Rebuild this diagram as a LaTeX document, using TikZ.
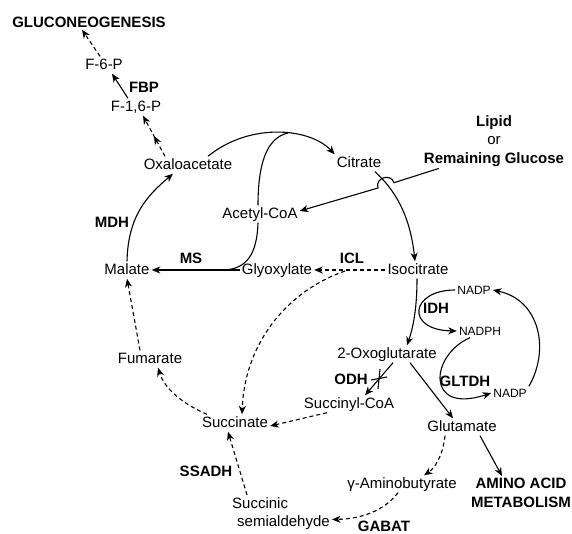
\documentclass[tikz,border=0pt]{standalone}
\usepackage{fontspec}
\setmainfont{Liberation Sans}
\usepackage{tikz}
\usetikzlibrary{arrows.meta,decorations.markings,positioning}

\newcommand{\bodyfont}{\fontsize{15pt}{18.5pt}\selectfont}
\newcommand{\cofont}{\fontsize{12pt}{14pt}\selectfont}

\begin{document}
\begin{tikzpicture}[x=1pt,y=1pt,
  every node/.style={font=\bodyfont, inner sep=2pt},
  mnode/.style={text height=11pt, text depth=2pt},
  enode/.style={font=\bodyfont\bfseries, text height=11pt, text depth=0pt},
  cnode/.style={font=\cofont, text height=9pt, text depth=0pt},
  lnode/.style={align=center, font=\bodyfont},
  joinline/.style={line width=1.1pt},
  conv/.style={joinline, -{Stealth[length=8.5pt,width=7pt,inset=2.5pt]}},
  dconv/.style={conv, dash pattern=on 4pt off 3pt},
  midtip/.style={postaction={decorate}, decoration={markings,
      mark=at position 0.5 with {\arrow{Stealth[length=8.5pt,width=7pt,inset=2.5pt]}}}}]

\useasboundingbox (0,0) rectangle (572,-534);

  \node (gluco) [enode] at (89,-22) {GLUCONEOGENESIS};
  \node (f6p) [mnode] at (104,-65) {F-6-P};
  \node (fbp) [enode] at (144,-87) {FBP};
  \node (f16p) [mnode] at (136,-107) {F-1,6-P};
  \node (oaa) [mnode] at (188,-165) {Oxaloacetate};
  \node (cit) [mnode] at (359,-163) {Citrate};
  \node (src) [lnode, anchor=north] at (494,-113) {\textbf{Lipid}\\or\\\textbf{Remaining Glucose}};
  \node (acoa) [mnode] at (260,-214) {Acetyl-CoA};
  \node (mdh) [enode] at (112,-222) {MDH};
  \node (mal) [mnode] at (127,-270) {Malate};
  \node (ms) [enode] at (191,-258) {MS};
  \node (glyox) [mnode] at (277,-270) {Glyoxylate};
  \node (icl) [enode] at (352,-258) {ICL};
  \node (iso) [mnode] at (418,-270) {Isocitrate};
  \node (nadpa) [cnode] at (474,-290) {NADP};
  \node (idh) [enode] at (436,-308) {IDH};
  \node (nadph) [cnode] at (480,-331) {NADPH};
  \node (oxo) [mnode] at (387,-354) {2-Oxoglutarate};
  \node (fum) [mnode] at (150,-359) {Fumarate};
  \node (odh) [enode] at (351,-379) {ODH};
  \node (gltdh) [enode] at (465,-381) {GLTDH};
  \node (nadpb) [cnode] at (510,-393) {NADP};
  \node (sucoa) [mnode] at (349,-404) {Succinyl-CoA};
  \node (succ) [mnode] at (235,-423) {Succinate};
  \node (glu) [mnode] at (462,-427) {Glutamate};
  \node (ssadh) [enode] at (206,-471) {SSADH};
  \node (gaba) [mnode] at (402,-484) {γ-Aminobutyrate};
  \node (aa) [lnode, font=\bodyfont\bfseries, anchor=north] at (521,-476) {AMINO ACID\\METABOLISM};
  \node (ssa) [lnode, align=left, anchor=north west] at (230,-495) {Succinic\\\hspace*{5pt}semialdehyde};
  \node (gabat) [enode] at (384,-526) {GABAT};

  \coordinate (arch) at (288,-133);
  \coordinate (msjoin) at (224,-270);
  \coordinate (iclsplit) at (345,-271);
  \coordinate (hopa) at (394,-182.7);
  \coordinate (hopb) at (378,-188);

% gluconeogenesis
  \draw[dconv, midtip] ([xshift=-23pt]oaa.north) -- ([xshift=7pt]f16p.south);
  \draw[conv] ([xshift=-8pt]f16p.north) -- ([xshift=8pt]f6p.south);
  \draw[dconv] ([xshift=-4pt]f6p.north) -- ([xshift=-7pt]gluco.south);

% glyoxylate cycle
  \draw[conv] ([xshift=20pt]oaa.north) .. controls (250,-122) and (310,-128) .. (cit.north west);
  \draw[joinline] ([xshift=-2pt]acoa.north) .. controls (258,-165) and (266,-138) .. (arch);
  \draw[joinline] ([xshift=-2pt]acoa.south) .. controls (257,-255) and (246,-269) .. (msjoin);
  \draw[conv] (glyox.west) -- (mal.east);
  \draw[conv] (mal.north) .. controls (128,-215) and (148,-195) .. ([xshift=-15pt]oaa.south);
  \draw[conv] ([xshift=16pt]cit.south) .. controls (395,-190) and (410,-215) .. ([xshift=-3pt]iso.north);
  \draw[conv] ([xshift=17pt]src.south west) -- (hopa) to[out=108,in=108,looseness=1.6] (hopb) -- ([yshift=3pt]acoa.east);

  \draw[dconv] (iso.west) -- (glyox.east);
  \draw[dconv] (iclsplit) .. controls (290,-290) and (245,-340) .. ([xshift=7pt]succ.north);
  \draw[dconv] ([xshift=-22pt]sucoa.south) -- ([yshift=-3pt]succ.east);
  \draw[dconv] ([xshift=-28pt]succ.north) .. controls (185,-405) and (165,-390) .. ([xshift=8pt]fum.south);
  \draw[dconv] ([xshift=-10pt]fum.north) -- (mal.south);
  \draw[dconv] ([xshift=17pt]ssa.north west) -- ([xshift=-7pt]succ.south);
  \draw[dconv] ([xshift=-4pt]gaba.south) .. controls (385,-510) and (362,-519) .. ([yshift=-6pt]ssa.east);

% nitrogen side
  \draw[conv] ([xshift=-1pt]iso.south) .. controls (417,-305) and (414,-325) .. ([xshift=20pt]oxo.north);
  \draw[conv] (nadpa.west) .. controls (410,-290) and (405,-330) .. (nadph.west);
  \draw[conv] ([xshift=-10pt]nadph.south) .. controls (430,-355) and (425,-415) .. (nadpb.west);
  \draw[conv] (nadpb.north east) .. controls (550,-350) and (540,-300) .. (nadpa.east);
  \draw[conv] ([xshift=23pt]oxo.south) -- ([xshift=-9pt]glu.north);
  \draw[conv] ([xshift=6pt]oxo.south) -- coordinate[midway] (odhx) ([xshift=16pt]sucoa.north);
  \draw[joinline] ([shift={(1pt,10pt)}]odhx) -- ([shift={(-1pt,-10pt)}]odhx);
  \draw[joinline] ([shift={(-8pt,-1pt)}]odhx) -- ([shift={(8pt,2pt)}]odhx);
  \draw[dconv] ([xshift=-17pt]glu.south) .. controls (443,-455) and (435,-468) .. ([xshift=22pt]gaba.north);
  \draw[conv] ([xshift=18pt]glu.south) -- ([xshift=-19pt]aa.north);

\end{tikzpicture}
\end{document}
